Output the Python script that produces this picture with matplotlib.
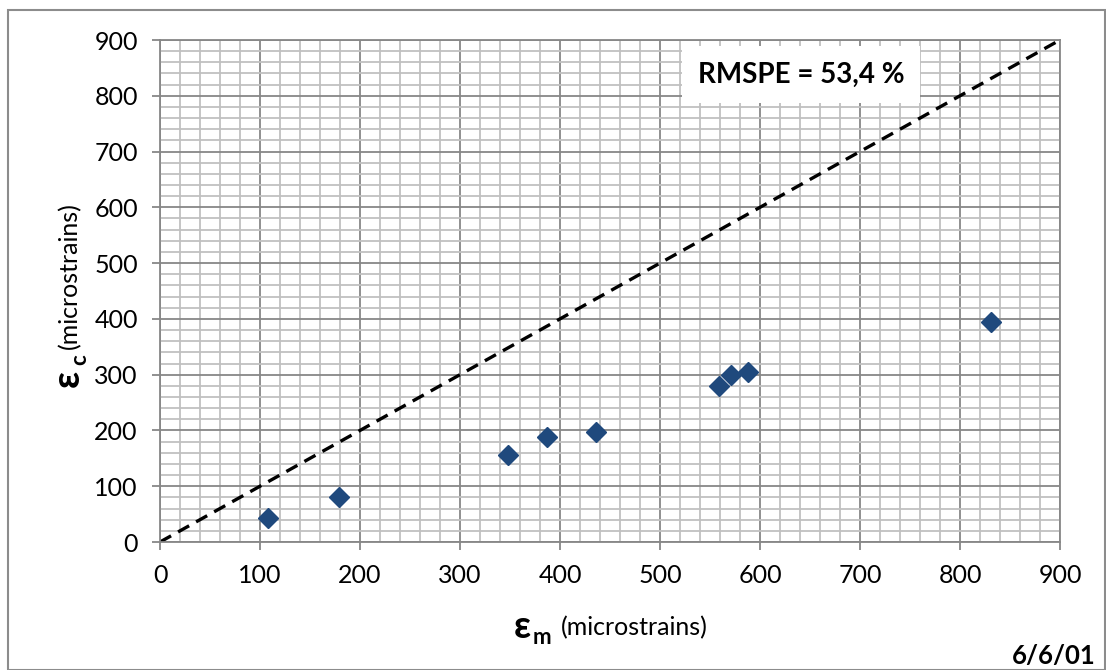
import matplotlib
matplotlib.use('Agg')
from matplotlib import pyplot as plt
from matplotlib.patches import Rectangle
from matplotlib.ticker import MultipleLocator

# measured vs computed strains (microstrains)
eps_m = [108, 179, 348, 387, 436, 559, 571, 588, 831]
eps_c = [43, 80, 156, 189, 198, 280, 300, 305, 394]
line_x = [0, 900]
line_y = [0, 900]
ticks = [0, 100, 200, 300, 400, 500, 600, 700, 800, 900]

plt.rcParams['font.family'] = ['Lato', 'DejaVu Sans']

W, H = 1106, 670
fig = plt.figure(figsize=(W / 100, H / 100), dpi=100)
ax = fig.add_axes([160 / W, 1 - 542 / H, 900 / W, 502 / H])

# outer chart border
fig.patches.append(Rectangle((8 / W, 0), 1097 / W, 1 - 10 / H, transform=fig.transFigure,
                             fill=False, edgecolor='#8c8c8c', linewidth=1.5))

ax.set_xlim(0, 900)
ax.set_ylim(0, 900)
ax.set_xticks(ticks)
ax.set_yticks(ticks)
ax.xaxis.set_minor_locator(MultipleLocator(20))
ax.yaxis.set_minor_locator(MultipleLocator(20))
ax.grid(which='minor', color='#c0c0c0', linewidth=1.3, zorder=0)
ax.grid(which='major', color='#878787', linewidth=1.3, zorder=0)
ax.set_axisbelow(True)
for s in ax.spines.values():
    s.set_color('#878787')
    s.set_linewidth(1.3)
ax.tick_params(which='major', length=6, width=1.3, color='#878787', labelsize=18, pad=10)
ax.tick_params(which='minor', length=0)

ax.plot(line_x, line_y, color='black', linewidth=2.4, dashes=(3.8, 2.4), zorder=2)
ax.plot(eps_m, eps_c, linestyle='none', marker='D', markersize=10.5,
        color='#1f497d', zorder=3)

ax.text(641, 838, 'RMSPE = 53,4 %', fontsize=20, fontweight='bold', ha='center', va='center',
        bbox=dict(facecolor='white', edgecolor='none', boxstyle='square,pad=0.55'), zorder=4)

# x label
fig.text(522 / W, 1 - 627 / H, '\u03b5', fontsize=27, fontweight='bold', ha='center', va='center')
fig.text(542 / W, 1 - 637 / H, 'm', fontsize=16, fontweight='bold', ha='center', va='center')
fig.text(561 / W, 1 - 628 / H, '(microstrains)', fontsize=18, ha='left', va='center')

# y label
fig.text(68 / W, 1 - 378 / H, '\u03b5', fontsize=27, fontweight='bold', ha='center', va='center', rotation=90)
fig.text(80 / W, 1 - 360 / H, 'c', fontsize=16, fontweight='bold', ha='center', va='center', rotation=90)
fig.text(70 / W, 1 - 349 / H, '(microstrains)', fontsize=18, ha='center', va='bottom', rotation=90)

fig.text(1096 / W, 1 - 656 / H, '6/6/01', fontsize=18.5, fontweight='bold', ha='right', va='center')

fig.savefig('out.png', dpi=100)
